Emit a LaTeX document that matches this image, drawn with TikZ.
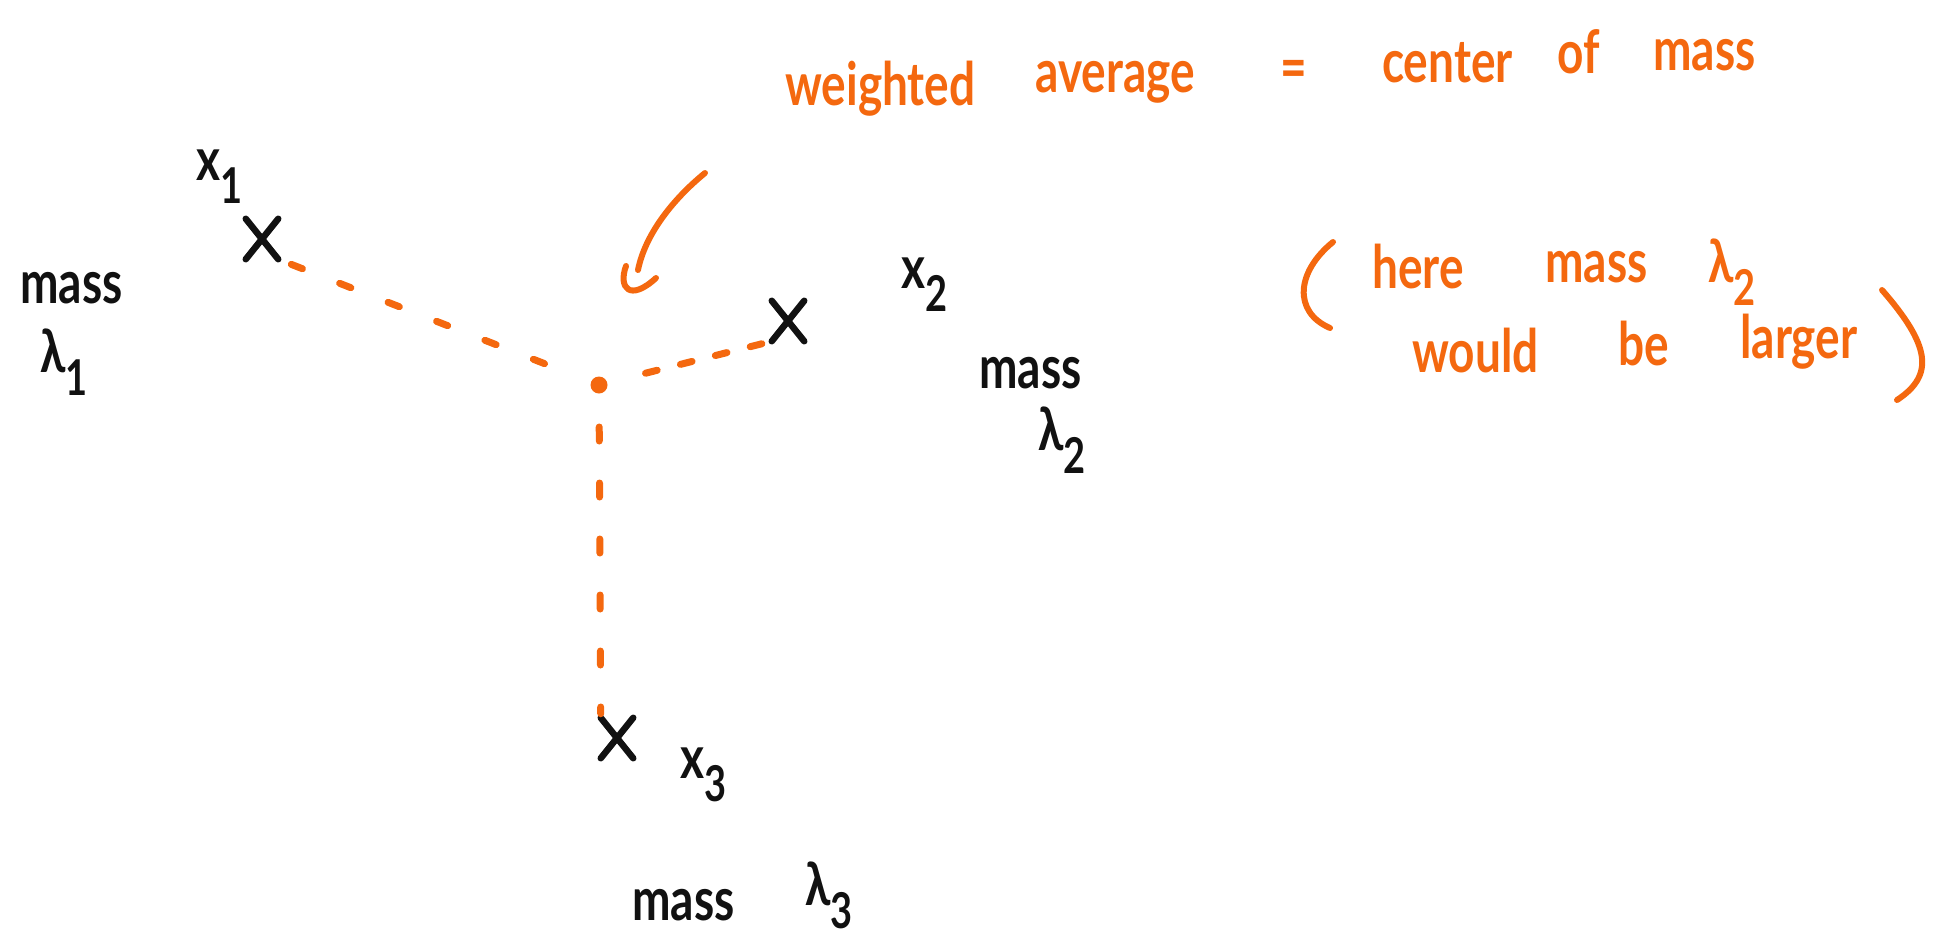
\documentclass[tikz,border=0pt]{standalone}
\usepackage{fontspec}
\setmainfont{Lato}
\usetikzlibrary{shapes.misc}
\definecolor{ink}{HTML}{111111}
\definecolor{hl}{HTML}{F4680F}
% handwritten-looking letters are taller than they are wide
\newcommand\hw[1]{\scalebox{1}[1.3]{#1}}
\newcommand\lowsub[1]{\raisebox{-0.4em}{\fontsize{38}{40}\selectfont #1}}

\begin{document}
\begin{tikzpicture}[x=1pt,y=-1pt,
  txt/.style={inner sep=0pt, anchor=base west, font=\fontsize{46}{50}\selectfont\bfseries},
  blk/.style={txt, text=ink},
  org/.style={txt, text=hl},
  xmark/.style={draw=ink, cross out, line width=6.5pt, line cap=round,
                minimum width=26pt, minimum height=34pt, inner sep=0pt},
  ctr/.style={circle, fill=hl, minimum size=17pt, inner sep=0pt},
  link/.style={draw=hl, line width=7pt, line cap=round},
  pen/.style={draw=hl, line width=6pt, line cap=round, line join=round}]

\useasboundingbox (0,0) rectangle (1944,948);

% the three points and their centre of mass
\node[xmark] (c1) at (262,239) {};
\node[xmark] (c2) at (788,321) {};
\node[xmark] (c3) at (617,738) {};
\node[ctr]   (dot) at (599,385) {};

% dashed links from the centre to each point
\draw[link, dash pattern=on 12pt off 40pt, shorten <=14pt, shorten >=32pt]
  (c1.south east) -- (dot.center);
\draw[link, dash pattern=on 12pt off 24pt, shorten <=48pt, shorten >=8pt]
  (dot.center) -- (c2.south west);
\draw[link, dash pattern=on 14pt off 42pt, shorten <=42pt, shorten >=4pt]
  (dot.center) -- (c3.north west);

% point labels and masses
\node[blk] (l1) at (196,180) {\hw{x\lowsub{1}}};
\node[blk] (m1) at (20,303)  {\hw{mass}};
\node[blk] (w1) at (40,372)  {\hw{λ\lowsub{1}}};

\node[blk] (l2) at (901,288) {\hw{x\lowsub{2}}};
\node[blk] (m2) at (979,388) {\hw{mass}};
\node[blk] (w2) at (1038,450){\hw{λ\lowsub{2}}};

\node[blk] (l3) at (680,778) {\hw{x\lowsub{3}}};
\node[blk] (m3) at (632,920) {\hw{mass}};
\node[blk] (w3) at (805,905) {\hw{λ\lowsub{3}}};

% heading
\node[org] (t1) at (785,105)  {\hw{weighted}};
\node[org] (t2) at (1035,92)  {\hw{average}};
\node[org] (t3) at (1280,88)  {\hw{=}};
\node[org] (t4) at (1382,82)  {\hw{center}};
\node[org] (t5) at (1557,73)  {\hw{of}};
\node[org] (t6) at (1653,70)  {\hw{mass}};

% arrow from the heading down to the centre of mass
\coordinate (a0) at (705,173);
\coordinate (a1) at (638,270);
\coordinate (h0) at (626,266);
\coordinate (h1) at (656,278);
\draw[pen] (a0) .. controls (672,200) and (645,235) .. (a1);
\draw[pen] (h0) .. controls (618,288) and (630,302) .. (h1);

% side remark in brackets
\coordinate (p0) at (1333,242);
\coordinate (p1) at (1330,328);
\draw[pen] (p0) .. controls (1296,272) and (1293,312) .. (p1);
\node[org] (n1) at (1372,288) {\hw{here}};
\node[org] (n2) at (1545,282) {\hw{mass}};
\node[org] (n3) at (1708,282) {\hw{λ\lowsub{2}}};
\node[org] (n4) at (1412,372) {\hw{would}};
\node[org] (n5) at (1618,365) {\hw{be}};
\node[org] (n6) at (1740,358) {\hw{larger}};
\coordinate (q0) at (1882,290);
\coordinate (q1) at (1897,400);
\draw[pen] (q0) .. controls (1930,345) and (1935,375) .. (q1);
\end{tikzpicture}
\end{document}
